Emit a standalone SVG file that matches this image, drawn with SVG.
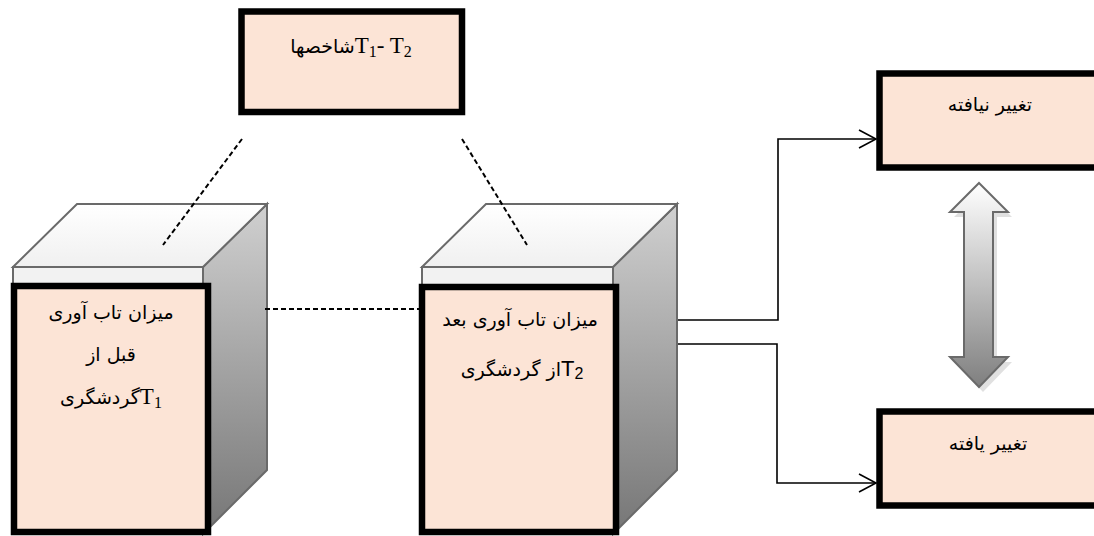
<svg xmlns="http://www.w3.org/2000/svg" width="1094" height="536" viewBox="0 0 1094 536">
<style>
.box{fill:#fce4d6;stroke:#000;stroke-width:6.5}
.edge{stroke:#6a6a6a;stroke-width:2;stroke-linejoin:miter}
.fa{font-family:"DejaVu Sans","Liberation Serif",serif;font-size:19px;fill:#000;text-anchor:middle}
.ser{font-family:"Liberation Serif",serif}
.san{font-family:"Liberation Sans",sans-serif}
.dash{stroke:#000;stroke-width:2;stroke-dasharray:5,3;fill:none}
.conn{stroke:#000;stroke-width:1.6;fill:none}
</style>
<defs>
<linearGradient id="side" x1="0" y1="0" x2="0" y2="1">
<stop offset="0" stop-color="#d0d0d0"/>
<stop offset="1" stop-color="#767676"/>
</linearGradient>
<linearGradient id="top" x1="0" y1="0" x2="0" y2="1">
<stop offset="0" stop-color="#ffffff"/>
<stop offset="1" stop-color="#f0f0f0"/>
</linearGradient>
<linearGradient id="dbl" x1="0" y1="0" x2="0" y2="1">
<stop offset="0" stop-color="#ffffff"/>
<stop offset="1" stop-color="#7f7f7f"/>
</linearGradient>
<marker id="open" markerWidth="20" markerHeight="22" refX="18" refY="10" orient="auto" markerUnits="userSpaceOnUse">
<path d="M1,1 L18,10 L1,19" fill="none" stroke="#000" stroke-width="1.6"/>
</marker>
</defs>

<g id="node-indicators">
<rect class="box" x="241.5" y="11.5" width="220.5" height="100.5"/>
<text class="fa" x="351" y="53">شاخصها<tspan class="ser" font-size="23">T</tspan><tspan class="ser" font-size="16" dy="4">1</tspan><tspan class="ser" font-size="23" dy="-4">- T</tspan><tspan class="ser" font-size="16" dy="4">2</tspan></text>
</g>

<g id="node-before">
<polygon points="203,267 267,204 267,470 203,534" fill="url(#side)" class="edge"/>
<polygon points="13,267 77,204 267,204 203,267" fill="url(#top)" class="edge"/>
<rect x="13" y="267" width="190" height="267" fill="#f2f2f2" class="edge"/>
<rect class="box" x="14" y="286" width="194" height="246"/>
<text class="fa" x="111" y="319">میزان تاب آوری</text>
<text class="fa" x="111" y="361">قبل از</text>
<text class="fa" x="111" y="404">گردشگری<tspan class="ser" font-size="23">T</tspan><tspan class="ser" font-size="16" dy="4">1</tspan></text>
</g>

<g id="node-after">
<polygon points="613,267 677,204 677,470 613,534" fill="url(#side)" class="edge"/>
<polygon points="422,267 486,204 677,204 613,267" fill="url(#top)" class="edge"/>
<rect x="422" y="267" width="191" height="267" fill="#f2f2f2" class="edge"/>
<rect class="box" x="422" y="287" width="194" height="245"/>
<text class="fa" x="520" y="326">میزان تاب آوری بعد</text>
<text class="fa" x="522" y="376">از گردشگری<tspan class="san" font-size="22">T</tspan><tspan class="san" font-size="16" dy="3">2</tspan></text>
</g>

<g id="node-unchanged">
<rect class="box" x="879.5" y="73.5" width="230" height="94"/>
<text class="fa" x="990" y="111" font-size="18">تغییر نیافته</text>
</g>

<g id="node-changed">
<rect class="box" x="879.5" y="411.5" width="230" height="94"/>
<text class="fa" x="988" y="450" font-size="18">تغییر یافته</text>
</g>

<g id="double-arrow">
<polygon points="983,188 1012,217 997,217 997,362 1012,362 983,392 954,362 968,362 968,217 954,217" fill="#000" opacity="0.12"/>
<polygon points="979,183 1008,212 993,212 993,357 1008,357 979,387 950,357 964,357 964,212 950,212" fill="url(#dbl)" stroke="#6a6a6a" stroke-width="2"/>
</g>

<g id="connectors">
<line class="dash" x1="242" y1="139" x2="163" y2="245"/>
<line class="dash" x1="462" y1="139" x2="527" y2="245"/>
<line class="dash" x1="265" y1="309" x2="420" y2="309"/>
<polyline class="conn" points="678,320 778,320 778,139 876,139" marker-end="url(#open)"/>
<polyline class="conn" points="678,344 777,344 777,483 876,483" marker-end="url(#open)"/>
</g>
</svg>
